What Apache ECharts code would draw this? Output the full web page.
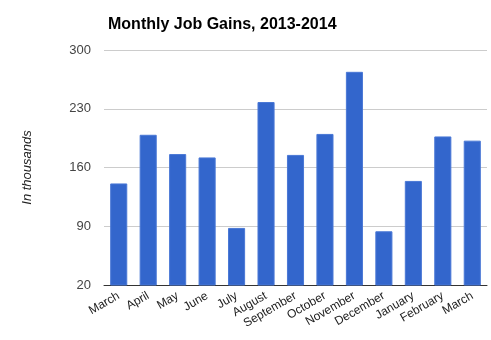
<!DOCTYPE html>
<html>
<head>
<meta charset="utf-8">
<script src="https://cdn.jsdelivr.net/npm/echarts@6/dist/echarts.min.js"></script>
<style>
  html, body { margin: 0; padding: 0; background: #fff; }
  #chart { width: 491px; height: 340px; }
</style>
</head>
<body>
<div id="chart"></div>
<script>
// Monthly payroll job gains, March 2013 to March 2014 (thousands)
const months = ['March', 'April', 'May', 'June', 'July', 'August', 'September',
  'October', 'November', 'December', 'January', 'February', 'March'];
const jobGains = [141, 199, 176, 172, 88, 238, 175, 200, 274, 84, 144, 197, 192];
const yTicks = [20, 90, 160, 230, 300];

const font = '"Liberation Sans", Arial, sans-serif';
const chart = echarts.init(document.getElementById('chart'));

chart.setOption({
  animation: false,
  title: {
    text: 'Monthly Job Gains, 2013-2014',
    left: 103,
    top: 12,
    textStyle: { fontFamily: font, fontSize: 16, fontWeight: 'bold', color: '#000' }
  },
  grid: { left: 104, right: 4, top: 50, bottom: 55, containLabel: false },
  xAxis: {
    type: 'category',
    data: months,
    axisTick: { show: false },
    axisLine: { lineStyle: { color: '#333', width: 1 } },
    axisLabel: {
      interval: 0,
      rotate: 30,
      margin: 10,
      fontFamily: font,
      fontSize: 12,
      color: '#222'
    }
  },
  yAxis: {
    type: 'value',
    min: yTicks[0],
    max: yTicks[yTicks.length - 1],
    interval: yTicks[1] - yTicks[0],
    name: 'In thousands',
    nameLocation: 'middle',
    nameGap: 70,
    nameTextStyle: { fontFamily: font, fontSize: 13, fontStyle: 'italic', color: '#222' },
    axisLine: { show: false },
    axisTick: { show: false },
    axisLabel: { fontFamily: font, fontSize: 13, color: '#444', margin: 13 },
    splitLine: { lineStyle: { color: '#ccc', width: 1 } }
  },
  series: [{
    type: 'bar',
    data: jobGains,
    barCategoryGap: '42%',
    clip: true,
    itemStyle: { color: '#3366cc', borderColor: '#4a78d6', borderWidth: 1 }
  }]
});
</script>
</body>
</html>
